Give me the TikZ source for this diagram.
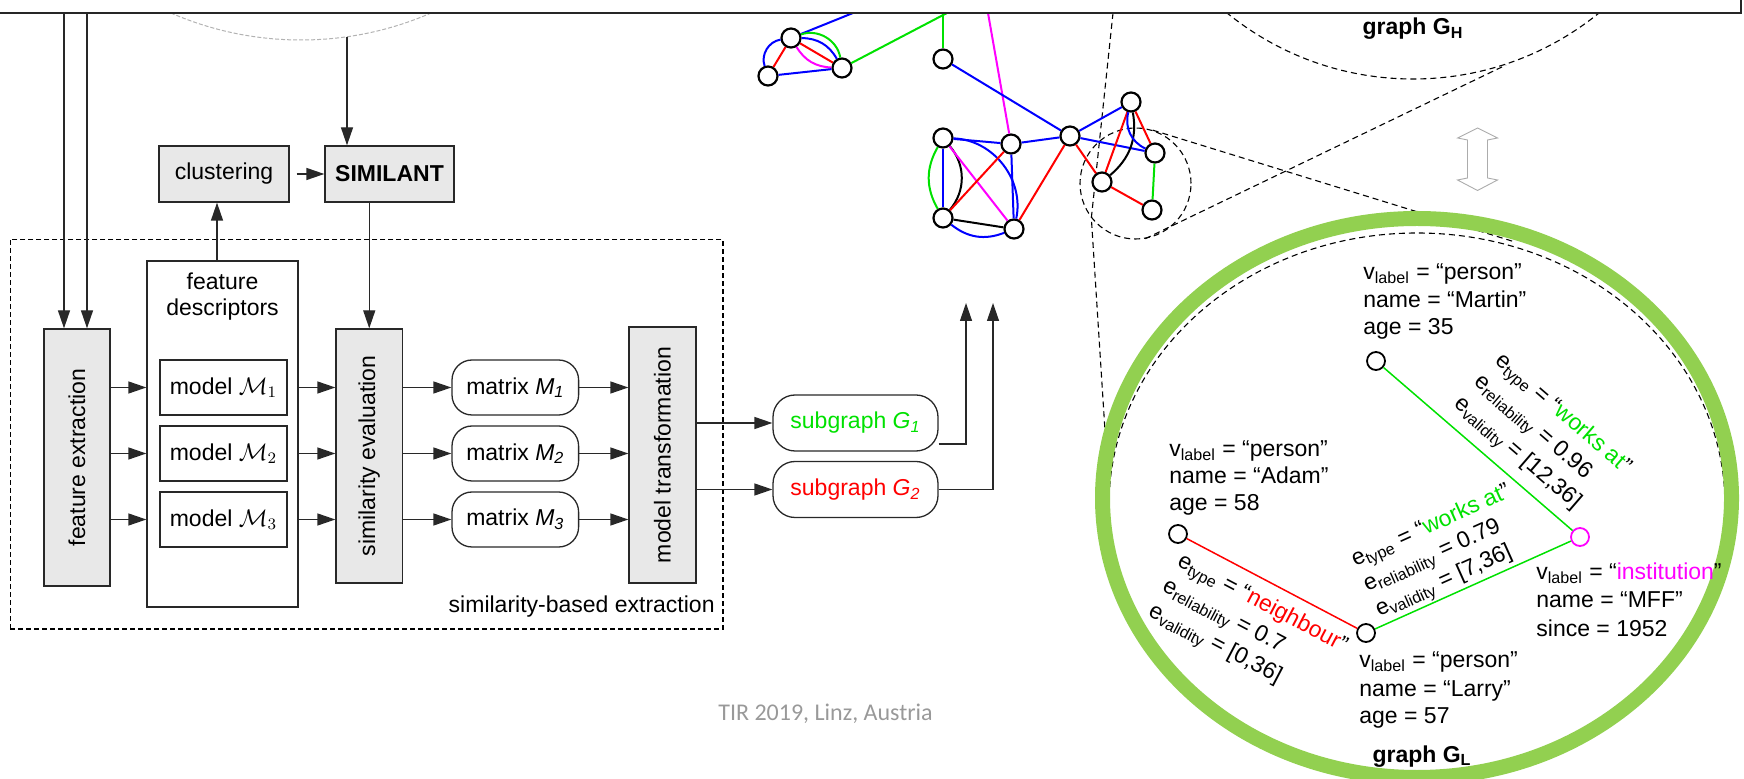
\documentclass[tikz,border=0pt]{standalone}
\usepackage{fontspec}
\setmainfont{Liberation Sans}
\newfontfamily\footfont{Carlito}
\usetikzlibrary{arrows.meta}
\definecolor{gG}{RGB}{0,225,0}
\definecolor{rR}{RGB}{255,0,0}
\definecolor{bB}{RGB}{0,0,255}
\definecolor{mM}{RGB}{255,0,255}
\definecolor{ringG}{RGB}{146,208,80}
\definecolor{boxF}{RGB}{232,232,232}
\definecolor{lineK}{RGB}{40,40,40}
\begin{document}
\begin{tikzpicture}[x=0.5pt,y=-0.5pt, font=\fontsize{11.5}{13.8}\selectfont,
  blk/.style={draw=lineK, line width=0.65pt, inner sep=0pt},
  gbox/.style={blk, fill=boxF},
  rbox/.style={blk, rounded corners=10pt},
  arr/.style={draw=lineK, line width=0.65pt, -{Triangle[length=9pt,width=6pt]}},
  lbl/.style={inner sep=0pt, anchor=base west},
  gv/.style={circle, draw=black, fill=white, line width=1.1pt, minimum size=9.5pt, inner sep=0pt},
  lv/.style={circle, draw=black, fill=white, line width=0.9pt, minimum size=9pt, inner sep=0pt},
  ge/.style={line width=1pt},
  le/.style={line width=0.75pt},
  dsh/.style={draw=black, line width=0.55pt, dash pattern=on 3pt off 2pt},
]
\useasboundingbox (0,0) rectangle (1744,779);

% large circles cut by the frame line
\begin{scope}
  \clip (0,13) rectangle (1744,779);
  \draw[gray!60, line width=0.5pt, dash pattern=on 2pt off 1pt] (301,-286) circle [radius=326];
  \draw[dsh] (1413,-216) circle [radius=295];
\end{scope}

% zoom guides
\node[circle, dsh, minimum size=55.5pt, inner sep=0pt] (zc) at (1135.5,183.5) {};
\coordinate (gh1) at (1113,13);
\coordinate (gh2) at (1506,65);
\coordinate (gl1) at (1107,462);
\coordinate (gl2) at (1515,242);
\draw[dsh] (gh1) -- (zc.218) -- (gl1);
\draw[dsh] (zc.280) -- (gh2);
\draw[dsh] (zc.72) -- (gl2);
\draw[dsh] (1417,505) ellipse [x radius=308, y radius=272];
\draw[ringG, line width=7.5pt] (1417,498) ellipse [x radius=314.5, y radius=279.5];

% hollow double arrow
\draw[gray!65, line width=0.45pt, fill=white] (1477.5,128) -- (1497.5,138) -- (1487.5,140) -- (1487.5,178)
  -- (1497.5,180) -- (1477.5,190.5) -- (1457.5,180) -- (1467.5,178) -- (1467.5,140) -- (1457.5,138) -- cycle;

% ---------- block diagram ----------
\node[draw=black, line width=0.6pt, dash pattern=on 2.5pt off 1.5pt, minimum width=356.3pt, minimum height=194.85pt, inner sep=0pt] (frame) at (366.7,434.15) {};
\node[inner sep=0pt, anchor=base east] (framel) at (715,613) {similarity-based extraction};

\node[gbox, minimum width=65pt, minimum height=28pt] (clu) at (224,174) {clustering};
\node[gbox, minimum width=64.5pt, minimum height=28pt, font=\fontsize{11.5}{13.8}\selectfont\bfseries] (sim) at (389.5,174) {SIMILANT};
\node[gbox, rotate=90, minimum width=128.5pt, minimum height=33pt] (fe) at (77,457.5) {feature extraction};
\node[blk, minimum width=75.5pt, minimum height=173pt] (fd) at (222.5,434) {};
\node[inner sep=0pt, anchor=base] (fdt1) at (222.5,290) {feature};
\node[inner sep=0pt, anchor=base] (fdt2) at (222.5,316) {descriptors};
\node[blk, minimum width=63.5pt, minimum height=27.5pt] (m1) at (223.5,387.5) {model $\mathcal{M}_1$};
\node[blk, minimum width=63.5pt, minimum height=27.5pt] (m2) at (223.5,453.5) {model $\mathcal{M}_2$};
\node[blk, minimum width=63.5pt, minimum height=27.5pt] (m3) at (223.5,519.5) {model $\mathcal{M}_3$};
\node[gbox, rotate=90, minimum width=127pt, minimum height=33.25pt] (se) at (369.25,456) {similarity evaluation};
\node[rbox, minimum width=63.3pt, minimum height=27.5pt] (x1) at (515.3,387.5) {matrix \textit{M}\textsubscript{\textit{1}}};
\node[rbox, minimum width=63.3pt, minimum height=27.5pt] (x2) at (515.3,453.5) {matrix \textit{M}\textsubscript{\textit{2}}};
\node[rbox, minimum width=63.3pt, minimum height=27.5pt] (x3) at (515.3,519.5) {matrix \textit{M}\textsubscript{\textit{3}}};
\node[gbox, rotate=90, minimum width=128pt, minimum height=33.5pt] (mt) at (662.5,455) {model transformation};
\node[blk, rounded corners=11pt, minimum width=82.5pt, minimum height=28pt, text=gG] (g1) at (855.5,423) {subgraph \textit{G}\textsubscript{\textit{1}}};
\node[blk, rounded corners=11pt, minimum width=82.5pt, minimum height=28pt, text=rR] (g2) at (855.5,489.5) {subgraph \textit{G}\textsubscript{\textit{2}}};

\coordinate (t1) at (64,13);
\coordinate (t2) at (87,13);
\coordinate (arcb) at (347,37);
\coordinate (u1) at (966,303);
\coordinate (u2) at (993,303);
\draw[arr] (t1) -- (t1 |- fe.east);
\draw[arr] (t2) -- (t2 |- fe.east);
\draw[arr] (arcb) -- (arcb |- sim.north);
\draw[arr] ([xshift=-2.75pt]fd.north) -- ([xshift=-2.75pt]fd.north |- clu.south);
\draw[arr, shorten <=3.5pt] (clu) -- (sim);
\draw[arr] (sim.south -| se.east) -- (se.east);
\foreach \i in {1,2,3} {
  \draw[arr] (fe.south |- m\i) -- (fd.west |- m\i);
  \draw[arr] (fd.east |- m\i) -- (se.north |- m\i);
  \draw[arr] (se.south |- x\i) -- (x\i.west);
  \draw[arr] (x\i.east) -- (mt.north |- x\i);
}
\draw[arr] (mt.south |- g1) -- (g1.west);
\draw[arr] (mt.south |- g2) -- (g2.west);
\draw[arr] ([yshift=-10.5pt]g1.east) -| (u1);
\draw[arr] (g2.east) -| (u2);

% ---------- graph G_H ----------
\node[gv] (ha) at (791,38) {};
\node[gv] (hb) at (768,76) {};
\node[gv] (hc) at (842,68) {};
\node[gv] (hd) at (943,59) {};
\node[gv] (he) at (943,138) {};
\node[gv] (hf) at (1011,144) {};
\node[gv] (hg) at (1070,136) {};
\node[gv] (hh) at (943,218) {};
\node[gv] (hi) at (1014,229) {};
\node[gv] (hj) at (1131,102) {};
\node[gv] (hk) at (1155,153) {};
\node[gv] (hl) at (1102,182) {};
\node[gv] (hm) at (1152,210) {};
\coordinate (ta) at (853,13);
\coordinate (tc) at (947,13);
\coordinate (tf) at (988,13);

\draw[ge,bB] (ha) -- (ta);
\draw[ge,gG] (hc) -- (tc);
\draw[ge,gG] (hd) -- (hd |- tc);
\draw[ge,mM] (tf) -- (hf);
\draw[ge,bB] (ha) to[bend right=50] (hb);
\draw[ge,rR] (ha) -- (hb);
\draw[ge,gG] (ha) to[bend left=50] (hc);
\draw[ge,bB] (ha) to[bend left=30] (hc);
\draw[ge,rR] (ha) -- (hc);
\draw[ge,mM] (ha) to[bend right=28] (hc);
\draw[ge,bB] (hb) -- (hc);
\draw[ge,bB] (hd) -- (hg);
\draw[ge,gG] (he) to[bend right=30] (hh);
\draw[ge,bB] (he) -- (hh);
\draw[ge,black] (he) to[bend left=40] (hh);
\draw[ge,mM] (he) -- (hi);
\draw[ge,bB] (he) to[bend left=50] (hi);
\draw[ge,bB] (he) -- (hf);
\draw[ge,rR] (hh) -- (hf);
\draw[ge,bB] (hf) -- (hi);
\draw[ge,bB] (hf) -- (hg);
\draw[ge,black] (hh) -- (hi);
\draw[ge,bB] (hh) to[bend right=30] (hi);
\draw[ge,rR] (hg) -- (hi);
\draw[ge,bB] (hg) -- (hj);
\draw[ge,bB] (hg) -- (hk);
\draw[ge,rR] (hg) -- (hl);
\draw[ge,rR] (hj) -- (hl);
\draw[ge,black] (hj) to[bend left=30] (hl);
\draw[ge,rR] (hj) -- (hk);
\draw[ge,bB] (hj) to[bend right=40] (hk);
\draw[ge,gG] (hk) -- (hm);
\draw[ge,rR] (hl) -- (hm);

\node[inner sep=0pt, anchor=base, font=\fontsize{11.5}{13.8}\selectfont\bfseries] (ghl) at (1413,35) {graph G\textsubscript{H}};

% ---------- graph G_L ----------
\node[lv] (lm) at (1376,361) {};
\node[lv] (la) at (1178,534) {};
\node[lv] (ll) at (1366,633) {};
\node[lv, draw=mM] (li) at (1580,537) {};
\draw[le,gG] (lm) -- (li);
\draw[le,rR] (la) -- (ll);
\draw[le,gG] (ll) -- (li);

\node[lbl] (lm1) at (1363,280) {v\textsubscript{label} = “person”};
\node[lbl] (lm2) at (1363,307.5) {name = “Martin”};
\node[lbl] (lm3) at (1363,335) {age = 35};
\node[lbl] (la1) at (1169,457) {v\textsubscript{label} = “person”};
\node[lbl] (la2) at (1169,484) {name = “Adam”};
\node[lbl] (la3) at (1169,511) {age = 58};
\node[lbl] (ll1) at (1359,668) {v\textsubscript{label} = “person”};
\node[lbl] (ll2) at (1359,696) {name = “Larry”};
\node[lbl] (ll3) at (1359,723) {age = 57};
\node[lbl] (li1) at (1536,580) {v\textsubscript{label} = “\textcolor{mM}{institution}”};
\node[lbl] (li2) at (1536,608) {name = “MFF”};
\node[lbl] (li3) at (1536,637) {since = 1952};

\node[lbl, rotate=-40.8] (emi1) at (1494,362) {e\textsubscript{type} = “\textcolor{gG}{works at}”};
\node[lbl, rotate=-40.8] (emi2) at (1473,383) {e\textsubscript{reliability} = 0.96};
\node[lbl, rotate=-40.8] (emi3) at (1453,405) {e\textsubscript{validity} = [12,36]};
\node[lbl, rotate=-27.7] (eal1) at (1176,565) {e\textsubscript{type} = “\textcolor{rR}{neighbour}”};
\node[lbl, rotate=-27.7] (eal2) at (1161,590) {e\textsubscript{reliability} = 0.7};
\node[lbl, rotate=-27.7] (eal3) at (1147,615) {e\textsubscript{validity} = [0,36]};
\node[lbl, rotate=24.2] (eli1) at (1355,567) {e\textsubscript{type} = “\textcolor{gG}{works at}”};
\node[lbl, rotate=24.2] (eli2) at (1367,592) {e\textsubscript{reliability} = 0.79};
\node[lbl, rotate=24.2] (eli3) at (1379,617) {e\textsubscript{validity} = [7,36]};

\node[inner sep=0pt, anchor=base, font=\fontsize{11.5}{13.8}\selectfont\bfseries] (gll) at (1422,762) {graph G\textsubscript{L}};

% footer
\node[inner sep=0pt, anchor=base, text=gray!80, font=\footfont\fontsize{12}{14}\selectfont] (foot) at (825.5,720) {TIR 2019, Linz, Austria};

% frame line at the top
\coordinate (fr0) at (0,13);
\coordinate (fr1) at (1741,13);
\coordinate (fr2) at (1741,0);
\draw[line width=1.2pt, black!85] (fr0) -- (fr1) -- (fr2);
\end{tikzpicture}
\end{document}
